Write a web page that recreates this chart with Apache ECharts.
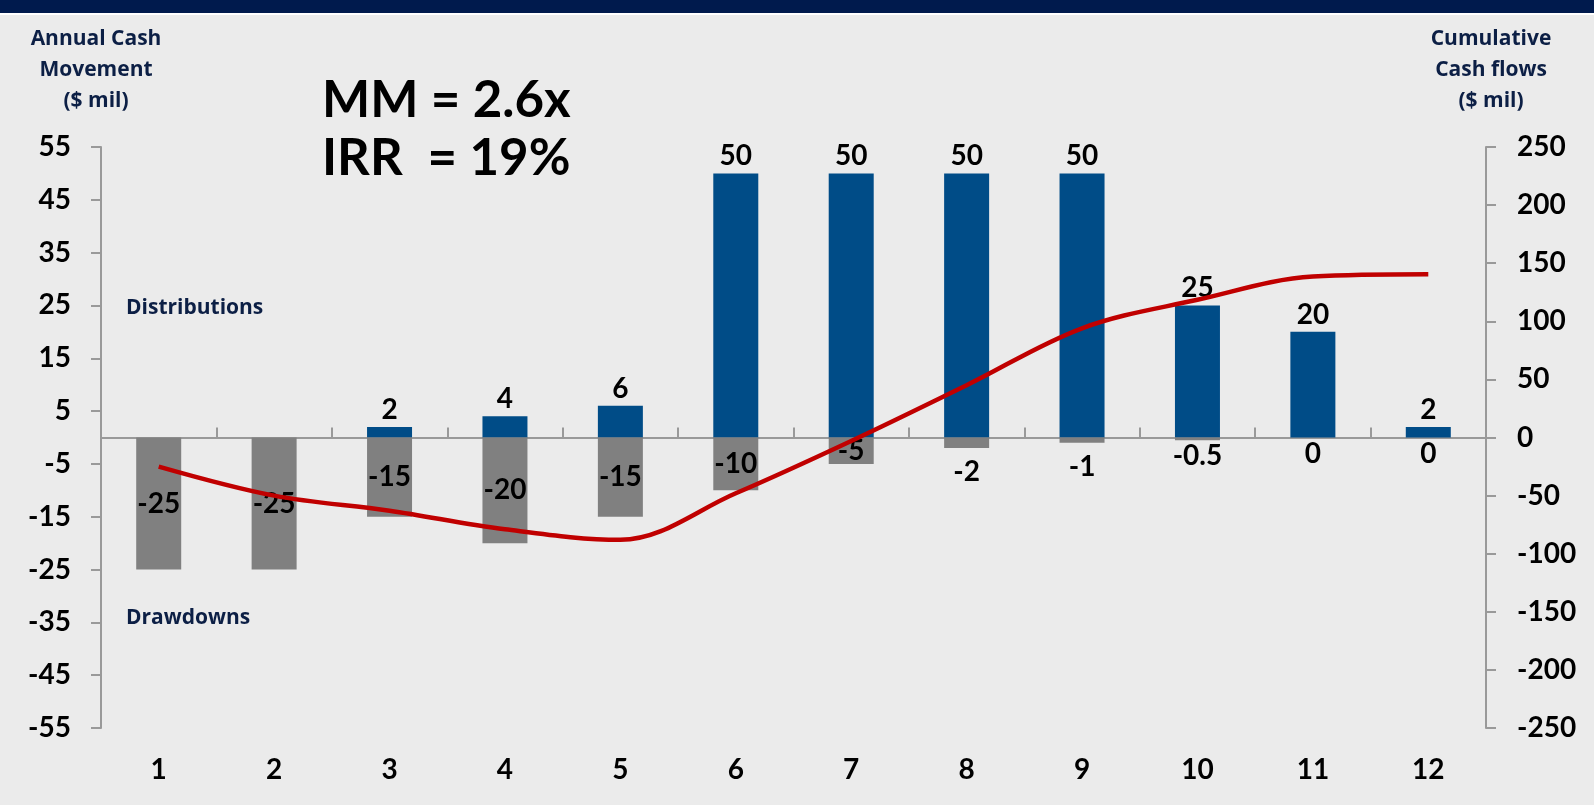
<!DOCTYPE html>
<html>
<head>
<meta charset="utf-8">
<script src="https://cdn.jsdelivr.net/npm/echarts@6/dist/echarts.min.js"></script>
<style>
  html, body { margin: 0; padding: 0; background: #ebebeb; }
  #chart { width: 1594px; height: 805px; }
</style>
</head>
<body>
<div id="chart"></div>
<script>
const years = ['1', '2', '3', '4', '5', '6', '7', '8', '9', '10', '11', '12'];
const distributions = [null, null, 2, 4, 6, 50, 50, 50, 50, 25, 20, 2];
const drawdowns = [-25, -25, -15, -20, -15, -10, -5, -2, -1, -0.5, 0, 0];
const cumulative = [-25, -50, -63, -79, -88, -48, -3, 45, 94, 118.5, 138.5, 140.5];

const navy = '#0c1f45';
const axisGray = '#999999';
const numFont = 'Lato, "Open Sans", sans-serif';
const textFont = '"Open Sans", Lato, sans-serif';

const chart = echarts.init(document.getElementById('chart'));

// drawdown labels: inside for the big bars, just below for the tiny ones
const drawdownData = drawdowns.map(function (v) {
  if (v <= -5) return v;
  return {
    value: v,
    label: { position: 'bottom', distance: v <= -1 ? 10 : 2 }
  };
});

function title(x, text) {
  return {
    type: 'text', x: x, y: 24,
    style: {
      text: text, align: 'center', verticalAlign: 'top',
      fill: navy, font: 'bold 21px ' + textFont, lineHeight: 31
    }
  };
}

const option = {
  backgroundColor: '#ebebeb',
  animation: false,
  grid: { left: 101, right: 108, top: 147, bottom: 77 },
  graphic: [
    { type: 'rect', left: 0, top: 0, shape: { width: 1594, height: 13 }, style: { fill: '#001a4d' } },
    { type: 'rect', left: 0, top: 13, shape: { width: 1594, height: 2 }, style: { fill: '#ffffff' } },
    title(96, 'Annual Cash\nMovement\n($ mil)'),
    title(1491, 'Cumulative\nCash flows\n($ mil)'),
    {
      type: 'text', left: 322, top: 75,
      style: { text: 'MM = 2.6x', fill: '#000', font: 'bold 51px ' + numFont }
    },
    {
      type: 'text', left: 322, top: 133,
      style: { text: 'IRR  = 19%', fill: '#000', font: 'bold 51px ' + numFont }
    },
    {
      type: 'text', left: 126, top: 298,
      style: { text: 'Distributions', fill: navy, font: 'bold 21px ' + textFont }
    },
    {
      type: 'text', left: 126, top: 608,
      style: { text: 'Drawdowns', fill: navy, font: 'bold 21px ' + textFont }
    }
  ],
  xAxis: [
    {
      type: 'category',
      data: years,
      axisLine: { show: false, onZero: false },
      axisTick: { show: false },
      axisLabel: { margin: 28, color: '#000', fontFamily: numFont, fontWeight: 'bold', fontSize: 28 }
    },
    {
      type: 'category',
      data: years,
      axisLine: { onZero: true, lineStyle: { color: axisGray, width: 2 } },
      axisTick: { show: true, length: 10, lineStyle: { color: axisGray, width: 2 } },
      axisLabel: { show: false }
    }
  ],
  yAxis: [
    {
      type: 'value',
      min: -55, max: 55, interval: 10,
      axisLine: { show: true, lineStyle: { color: axisGray, width: 2 } },
      axisTick: { show: true, length: 10, lineStyle: { color: axisGray, width: 2 } },
      splitLine: { show: false },
      axisLabel: { margin: 30, color: '#000', fontFamily: numFont, fontWeight: 'bold', fontSize: 28 }
    },
    {
      type: 'value',
      min: -250, max: 250, interval: 50,
      axisLine: { show: true, lineStyle: { color: axisGray, width: 2 } },
      axisTick: { show: true, length: 10, lineStyle: { color: axisGray, width: 2 } },
      splitLine: { show: false },
      axisLabel: { margin: 31, color: '#000', fontFamily: numFont, fontWeight: 'bold', fontSize: 28 }
    }
  ],
  series: [
    {
      name: 'Distributions',
      type: 'bar',
      data: distributions,
      barWidth: 45,
      barGap: '-100%',
      itemStyle: { color: '#004c87' },
      label: {
        show: true, position: 'top', distance: 3,
        color: '#000', fontFamily: numFont, fontWeight: 'bold', fontSize: 28
      }
    },
    {
      name: 'Drawdowns',
      type: 'bar',
      data: drawdownData,
      barWidth: 45,
      barGap: '-100%',
      itemStyle: { color: '#808080' },
      label: {
        show: true, position: 'inside',
        color: '#000', fontFamily: numFont, fontWeight: 'bold', fontSize: 28
      }
    },
    {
      name: 'Cumulative',
      type: 'line',
      yAxisIndex: 1,
      data: cumulative,
      smooth: 0.35,
      symbol: 'none',
      lineStyle: { color: '#c00000', width: 4.5 },
      z: 5
    }
  ]
};

chart.setOption(option);
</script>
</body>
</html>
